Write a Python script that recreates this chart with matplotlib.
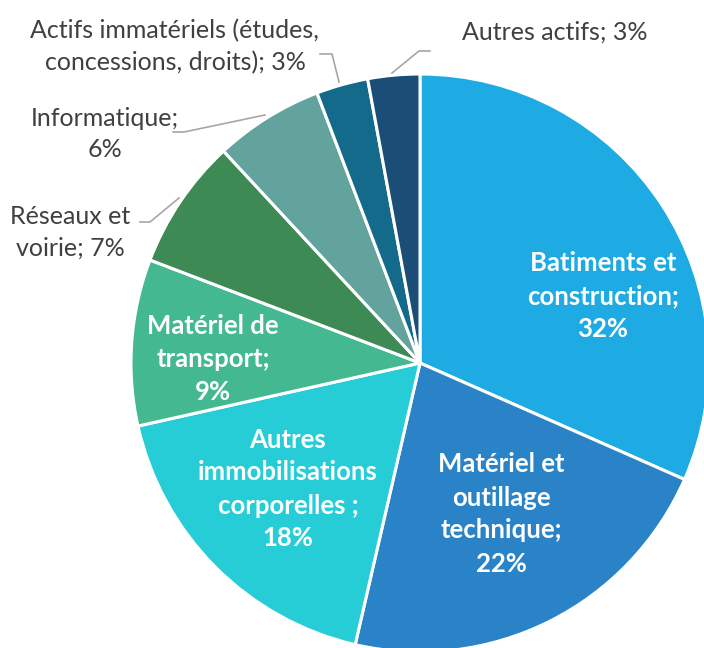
import matplotlib
matplotlib.use("Agg")
import matplotlib.pyplot as plt

categories = ["Batiments et\nconstruction;\n32%",
              "Matériel et\noutillage\ntechnique;\n22%",
              "Autres\nimmobilisations\ncorporelles ;\n18%",
              "Matériel de\ntransport;\n9%",
              "Réseaux et\nvoirie; 7%",
              "Informatique;\n6%",
              "Actifs immatériels (études,\nconcessions, droits); 3%",
              "Autres actifs; 3%"]
values = [31.6, 22.0, 17.9, 9.3, 7.3, 6.1, 2.9, 2.9]
colors = ["#1EABE3", "#2A83C6", "#27CDD6", "#44B991",
          "#3E8A55", "#63A39E", "#146A8A", "#1A4E76"]

W, H = 704, 648
fig = plt.figure(figsize=(W / 100, H / 100), dpi=100)
ax = fig.add_axes([0, 0, 1, 1])

cx, cy, r = 420, 363, 289
wedges, _ = ax.pie(values, colors=colors, startangle=90, counterclock=False,
                   center=(cx, H - cy), radius=r,
                   wedgeprops=dict(edgecolor="white", linewidth=2.2))
ax.set_xlim(0, W)
ax.set_ylim(0, H)
ax.set_aspect("equal")
ax.axis("off")

font = ["Lato", "DejaVu Sans"]
inside = [(603, 296), (501, 514), (288, 489), (213, 359)]
for lab, (x, y) in zip(categories[:4], inside):
    ax.text(x, H - y, lab, ha="center", va="center", color="white",
            fontsize=18.5, fontweight="bold", family=font, linespacing=1.45)

outside = [(70, 232), (105, 134), (175, 47), (555, 32)]
for lab, (x, y) in zip(categories[4:], outside):
    ax.text(x, H - y, lab, ha="center", va="center", color="#404040",
            fontsize=18, family=font, linespacing=1.45)

leaders = [[(140, 222), (150, 222), (179, 198)],
           [(173, 132), (184, 132), (265, 115)],
           [(320, 54), (332, 54), (339, 82)],
           [(430, 51), (419, 51), (392, 73)]]
for pts in leaders:
    xs, ys = zip(*pts)
    ax.plot(xs, [H - y for y in ys], color="#A6A6A6", lw=1.2)

fig.savefig("out.png", dpi=100)
